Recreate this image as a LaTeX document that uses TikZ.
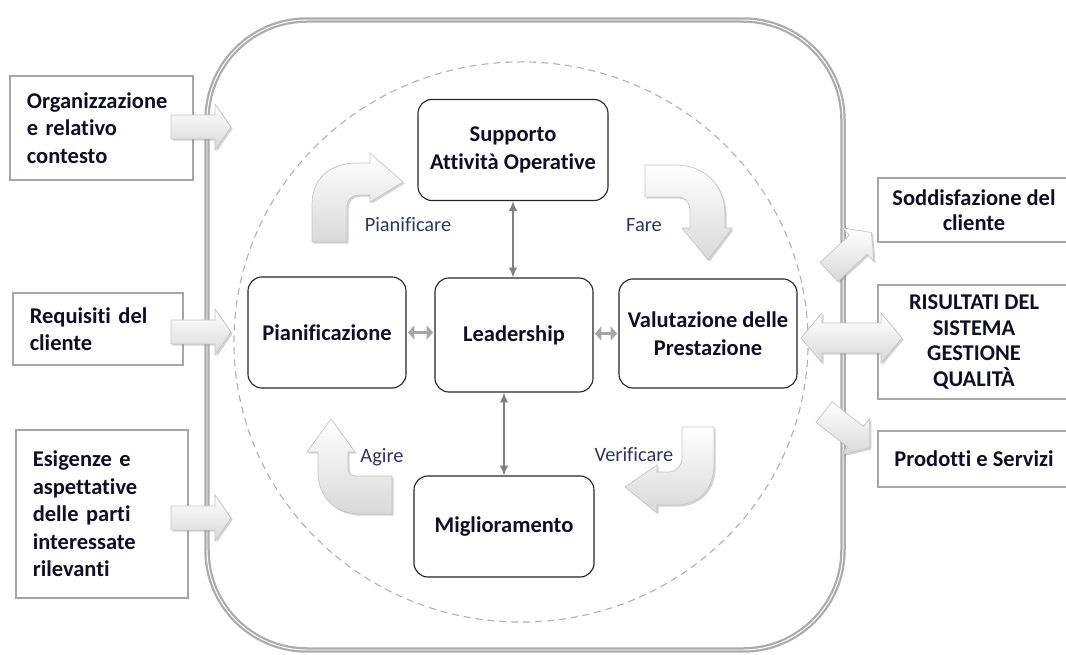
\documentclass[tikz,border=0pt]{standalone}
\usepackage{fontspec}
\setmainfont{Carlito}[Ligatures=NoCommon]
\usepackage{tikz}
\usetikzlibrary{shadows,arrows.meta}
\definecolor{labelblue}{RGB}{45,55,90}
\definecolor{textnavy}{RGB}{15,15,35}

\begin{document}
\begin{tikzpicture}[x=0.025cm, y=-0.025cm,
	frame_style/.style={draw=gray!65, line width=1.6pt, double=white, double distance=0.7pt, rounded corners=2.5cm},
	ring_style/.style={draw=gray!60, line width=0.8pt, dash pattern=on 5pt off 3.5pt},
	phase_style/.style={draw=black!85, line width=0.8pt, rounded corners=0.35cm, fill=white, align=center, text=textnavy, font=\fontsize{16}{19.5}\selectfont\bfseries, inner sep=2pt},
	in_style/.style={draw=gray!70, line width=1.2pt, fill=white, align=left, text=textnavy, font=\fontsize{16}{19.5}\selectfont\bfseries, inner xsep=0.42cm, inner ysep=0pt},
	out_style/.style={draw=gray!70, line width=1.2pt, fill=white, align=center, text=textnavy, font=\fontsize{16}{18.2}\selectfont\bfseries},
	link_style/.style={draw=gray, line width=1pt, {Latex[length=7pt,width=6pt]}-{Latex[length=7pt,width=6pt]}},
	short_link_style/.style={draw=gray!70, line width=2.6pt, {Triangle[length=4.5pt,width=10pt]}-{Triangle[length=4.5pt,width=10pt]}, shorten <=1pt, shorten >=1pt},
	block_style/.style={draw=gray!45, line width=0.5pt, top color=white, bottom color=gray!30, drop shadow={shadow xshift=1.2pt, shadow yshift=-1.2pt, opacity=0.35}},
	label_style/.style={text=labelblue, font=\fontsize{14.5}{17}\selectfont}]
	
	\useasboundingbox (0,0) rectangle (1066,655);
	
	% cornice e anello
	\draw[frame_style] (207,20) rectangle (843,650);
	\draw[ring_style] (521,342) ellipse [x radius=7.175cm, y radius=7cm];
	
	% ingressi
	\node[in_style, text width=3.73cm, minimum height=2.6cm] (org) at (101.5,128) {Organizzazione\\e relativo\\contesto};
	\node[in_style, text width=3.41cm, minimum height=1.8cm] (req) at (98,329) {Requisiti del\\cliente};
	\node[in_style, text width=3.46cm, minimum height=4.2cm] (esig) at (102,514) {Esigenze e\\aspettative\\delle parti\\interessate\\rilevanti};
	
	% uscite
	\node[out_style, minimum width=4.8cm, minimum height=1.6cm] (sod) at (974,210) {Soddisfazione del\\cliente};
	\node[out_style, minimum width=4.8cm, minimum height=2.85cm] (ris) at (974,342) {RISULTATI DEL\\SISTEMA\\GESTIONE\\QUALITÀ};
	\node[out_style, minimum width=4.8cm, minimum height=1.4cm] (prod) at (974,459) {Prodotti e Servizi};
	
	% fasi
	\node[phase_style, minimum width=4.75cm, minimum height=2.525cm] (sup) at (513,150) {Supporto\\Attività Operative};
	\node[phase_style, minimum width=3.95cm, minimum height=2.85cm] (lead) at (514,335) {Leadership};
	\node[phase_style, minimum width=3.95cm, minimum height=2.775cm] (pian) at (327,332.5) {Pianificazione};
	\node[phase_style, minimum width=4.45cm, minimum height=2.725cm] (val) at (708,333.5) {Valutazione delle\\Prestazione};
	\node[phase_style, minimum width=4.5cm, minimum height=2.525cm] (mig) at (504,526.5) {Miglioramento};
	
	\draw[link_style] (sup.south) -- (sup.south |- lead.north);
	\draw[link_style] (mig.north |- lead.south) -- (mig.north);
	\draw[short_link_style] (pian.east) -- (pian.east -| lead.west);
	\draw[short_link_style] (val.west -| lead.east) -- (val.west);
	
	% frecce di ingresso
	\foreach \y in {127,332,518}{
		\draw[block_style] (171,\y-12) -- (215,\y-12) -- (215,\y-23) -- (231,\y) -- (215,\y+23) -- (215,\y+12) -- (171,\y+12) -- cycle;}
	
	% frecce di uscita
	\draw[block_style] (801,338) -- (822,313) -- (822,323) -- (881,323) -- (881,313) -- (902,338) -- (881,363) -- (881,353) -- (822,353) -- (822,363) -- cycle;
	\foreach \px/\py/\a in {829/272/43, 824/412/-38}{
		\begin{scope}[shift={(\px,\py)}, rotate=\a]
			\draw[block_style] (0,-13) -- (40,-13) -- (40,-23) -- (58,0) -- (40,23) -- (40,13) -- (0,13) -- cycle;
		\end{scope}}
	
	% ciclo PDCA
	\draw[block_style] (312,242) -- (312,205) .. controls (312,178) and (330,163) .. (358,163) -- (370,163) -- (370,153) -- (403,182) -- (370,202) -- (370,195) -- (358,195) .. controls (352,195) and (347,200) .. (347,206) -- (347,242) -- cycle;
	\draw[block_style] (645,165) -- (675,165) .. controls (705,165) and (725,185) .. (725,215) -- (725,228) -- (732,228) -- (708,260) -- (682,228) -- (690,228) -- (690,212) .. controls (690,203) and (686,197) .. (678,197) -- (645,197) -- cycle;
	\draw[block_style] (682,427) -- (714,427) -- (714,465) .. controls (714,490) and (698,505) .. (675,505) -- (657,505) -- (657,513) -- (625,487) -- (657,465) -- (657,472) -- (668,472) .. controls (676,472) and (682,466) .. (682,458) -- cycle;
	\draw[block_style] (392,476) -- (392,514) -- (360,514) .. controls (335,514) and (318,497) .. (318,472) -- (318,452) -- (307,452) -- (331,419) -- (355,452) -- (348,452) -- (348,468) .. controls (348,472) and (351,476) .. (355,476) -- cycle;
	
	\node[label_style] (l_plan) at (408,225) {Pianificare};
	\node[label_style] (l_do) at (644,225) {Fare};
	\node[label_style] (l_check) at (634,455) {Verificare};
	\node[label_style] (l_act) at (382,457) {Agire};
\end{tikzpicture}
\end{document}
